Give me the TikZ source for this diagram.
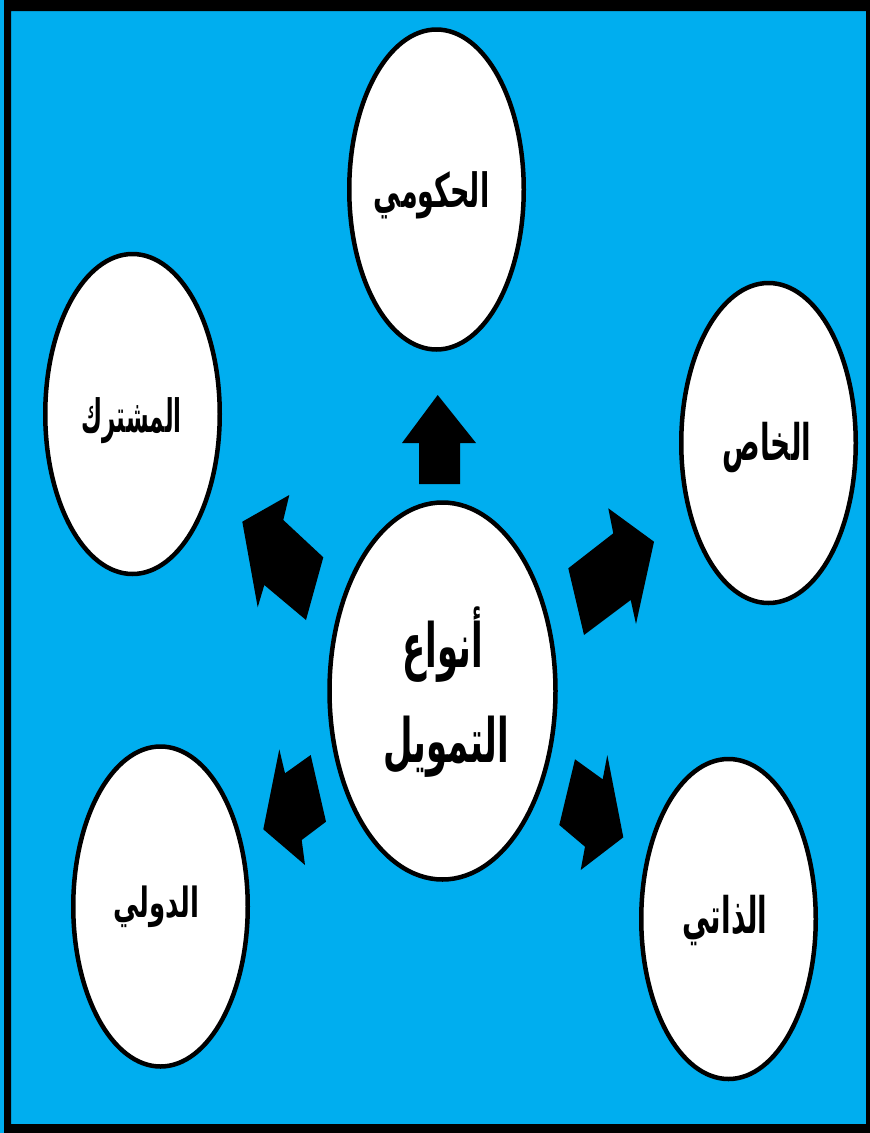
\documentclass[tikz,border=0pt]{standalone}
\usepackage{fontspec}
\usetikzlibrary{shapes.geometric}
\newfontfamily\arabicfont[Script=Arabic]{DejaVu Sans}
\TeXXeTstate=1
\definecolor{bgblue}{RGB}{0,174,239}
\newcommand{\arlbl}[3]{\scalebox{1}[#2]{\arabicfont\bfseries\fontsize{#1}{#1}\selectfont\beginR #3\endR}}
\tikzset{
  bubble/.style={ellipse, draw=black, line width=4.5pt, fill=white, inner sep=0pt,
    minimum width=174.5pt, minimum height=320pt},
  hubbubble/.style={bubble, minimum width=226pt, minimum height=377pt},
  labeltext/.style={anchor=base, inner sep=0pt, text=black},
  blockarrow/.style={fill=black, draw=none}
}
\begin{document}
\begin{tikzpicture}[x=1pt,y=-1pt]
\useasboundingbox (0,0) rectangle (870,1133);
\fill[bgblue] (0,0) rectangle (870,1133);
\fill[black, even odd rule] (4,0) rectangle (870,1133) (11,11) rectangle (866,1124);

\node[bubble] (gov) at (436.5,189.5) {};
\node[bubble] (joint) at (132.5,414) {};
\node[bubble] (priv) at (768.5,443) {};
\node[bubble] (intl) at (160.5,906.5) {};
\node[bubble] (self) at (728.5,919) {};
\node[hubbubble] (hub) at (442.5,691) {};

\node[labeltext] (govt) at (431.5,207) {\arlbl{27}{1.75}{الحكومي}};
\node[labeltext] (jointt) at (131.5,432) {\arlbl{23}{2.0}{المشترك}};
\node[labeltext] (privt) at (767,460) {\arlbl{28}{1.8}{الخاص}};
\node[labeltext] (intlt) at (156.5,917) {\arlbl{26}{1.6}{الدولي}};
\node[labeltext] (selft) at (725,933) {\arlbl{28}{1.8}{الذاتي}};
\node[labeltext] (hubt1) at (443,667) {\arlbl{34}{1.8}{أنواع}};
\node[labeltext] (hubt2) at (446,762) {\arlbl{34}{1.8}{التمويل}};

% block arrows
\fill[blockarrow] (437.7,395) -- (476,443) -- (460,443) -- (460,484) -- (419,484) -- (419,443) -- (402,443) -- cycle;
\fill[blockarrow] (242.3,521.7) -- (289.3,495) -- (283.3,520) -- (323.3,557.3) -- (306,620) -- (264.3,585) -- (257.7,607.3) -- cycle;
\fill[blockarrow] (654,541.7) -- (636,624) -- (630.7,600) -- (584,635) -- (568.3,568.3) -- (613.3,533.3) -- (608.3,508.3) -- cycle;
\fill[blockarrow] (263.3,829.3) -- (279.3,749.3) -- (285,773.3) -- (310.7,755) -- (326,821.7) -- (301.7,840) -- (305,865) -- cycle;
\fill[blockarrow] (623.3,837.3) -- (580.7,870) -- (585,846.7) -- (559.3,825) -- (575,759.3) -- (602.7,779.3) -- (607.3,755) -- cycle;
\end{tikzpicture}
\end{document}
